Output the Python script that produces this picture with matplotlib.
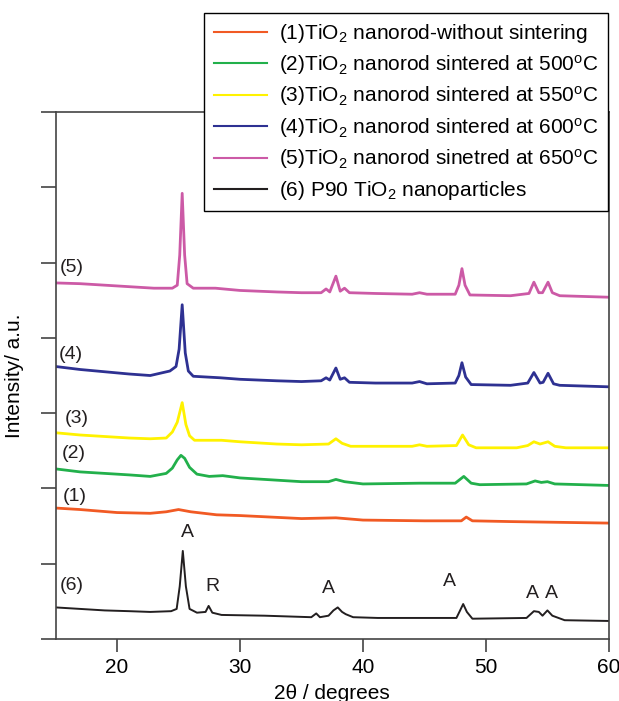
import matplotlib
matplotlib.use("Agg")
import matplotlib.pyplot as plt

plt.rcParams['font.family'] = ['Liberation Sans', 'DejaVu Sans']
plt.rcParams['mathtext.default'] = 'regular'

# (1) nanorod ohne Sintern
x1 = [15, 17, 20, 22.7, 24.0, 25.0, 26.0, 28.1, 30, 35, 37.8, 40, 45, 48.0, 48.4, 48.9, 52, 56, 60]
y1 = [1.74, 1.72, 1.68, 1.67, 1.69, 1.72, 1.69, 1.65, 1.64, 1.60, 1.61, 1.58, 1.57, 1.57, 1.62, 1.57, 1.56, 1.55, 1.54]

# (2) 500 C
x2 = [15, 17, 19, 21, 22.7, 24.0, 24.5, 24.9, 25.2, 25.5, 25.9, 26.5, 27.5, 28.6, 30, 33, 35, 37.2, 37.8,
      38.5, 40, 44.6, 47.5, 48.2, 48.8, 49.5, 53.3, 54.0, 54.5, 55.0, 55.6, 60]
y2 = [2.26, 2.22, 2.20, 2.18, 2.16, 2.20, 2.27, 2.38, 2.44, 2.40, 2.28, 2.19, 2.16, 2.17, 2.14, 2.11, 2.09, 2.09, 2.12,
      2.09, 2.06, 2.07, 2.07, 2.16, 2.07, 2.05, 2.06, 2.10, 2.08, 2.09, 2.06, 2.04]

# (3) 550 C
x3 = [15, 17, 19, 21, 22.7, 24.0, 24.5, 24.9, 25.3, 25.6, 25.9, 26.3, 28.5, 30, 33, 35, 37.2, 37.8, 38.3, 39,
      44.0, 44.6, 45.2, 47.6, 48.1, 48.6, 49.2, 52.5, 53.4, 53.9, 54.4, 55.05, 55.6, 56.5, 60]
y3 = [2.74, 2.71, 2.69, 2.67, 2.66, 2.67, 2.75, 2.88, 3.14, 2.85, 2.70, 2.64, 2.64, 2.62, 2.59, 2.58, 2.59, 2.66, 2.60, 2.56,
      2.56, 2.58, 2.56, 2.57, 2.71, 2.58, 2.54, 2.54, 2.57, 2.62, 2.59, 2.62, 2.56, 2.54, 2.54]

# (4) 600 C
x4 = [15, 17, 19, 21, 22.7, 24.3, 24.8, 25.05, 25.3, 25.55, 25.8, 26.2, 28.4, 30, 33, 35, 36.6, 37.0, 37.3, 37.8,
      38.15, 38.5, 38.9, 41, 44.0, 44.6, 45.2, 47.5, 47.8, 48.05, 48.35, 48.8, 52, 53.4, 53.9, 54.4, 54.65, 55.05,
      55.5, 56, 58, 60]
y4 = [3.62, 3.58, 3.55, 3.52, 3.50, 3.56, 3.62, 3.85, 4.44, 3.80, 3.56, 3.49, 3.47, 3.45, 3.43, 3.42, 3.43, 3.47, 3.44, 3.60,
      3.45, 3.47, 3.41, 3.40, 3.40, 3.42, 3.39, 3.40, 3.50, 3.67, 3.48, 3.38, 3.37, 3.40, 3.54, 3.40, 3.41, 3.53,
      3.39, 3.37, 3.36, 3.35]

# (5) 650 C
x5 = [15, 17, 19, 21, 23, 24.5, 24.9, 25.1, 25.3, 25.5, 25.7, 26.2, 28, 30, 33, 35, 36.6, 37.0, 37.3, 37.8,
      38.15, 38.5, 38.9, 41, 44.0, 44.6, 45.2, 47.5, 47.8, 48.05, 48.3, 48.7, 52, 53.5, 53.9, 54.3, 54.6, 55.05,
      55.4, 56, 58, 60]
y5 = [4.73, 4.72, 4.70, 4.68, 4.66, 4.66, 4.70, 5.10, 5.92, 5.10, 4.72, 4.66, 4.66, 4.63, 4.61, 4.60, 4.60, 4.65, 4.61, 4.82,
      4.62, 4.66, 4.60, 4.59, 4.58, 4.60, 4.58, 4.58, 4.70, 4.92, 4.70, 4.57, 4.56, 4.59, 4.74, 4.60, 4.60, 4.74,
      4.60, 4.56, 4.55, 4.54]

# (6) P90
x6 = [15, 17, 19, 21, 22.7, 24.4, 24.85, 25.1, 25.35, 25.6, 25.9, 26.5, 27.2, 27.45, 27.75, 28.5, 32, 35.8, 36.2,
      36.5, 37.2, 37.6, 37.95, 38.3, 38.6, 39.2, 41.2, 44, 47.6, 47.9, 48.15, 48.45, 48.9, 53.3, 53.9, 54.3, 54.6,
      55.0, 55.4, 56.4, 60]
y6 = [0.42, 0.40, 0.38, 0.37, 0.36, 0.37, 0.40, 0.70, 1.17, 0.70, 0.40, 0.35, 0.36, 0.44, 0.35, 0.32, 0.31, 0.29, 0.34,
      0.29, 0.31, 0.38, 0.42, 0.36, 0.33, 0.29, 0.28, 0.28, 0.28, 0.38, 0.465, 0.36, 0.27, 0.28, 0.37, 0.36, 0.31,
      0.38, 0.31, 0.25, 0.24]

labels = [r"(1)TiO$_2$ nanorod-without sintering",
          r"(2)TiO$_2$ nanorod sintered at 500$^o$C",
          r"(3)TiO$_2$ nanorod sintered at 550$^o$C",
          r"(4)TiO$_2$ nanorod sintered at 600$^o$C",
          r"(5)TiO$_2$ nanorod sinetred at 650$^o$C",
          r"(6) P90 TiO$_2$ nanoparticles"]
farben = ['#f15a24', '#22b04b', '#fff200', '#2e3192', '#cc5aa6', '#231f20']

# Kurvennummern links
num_text = ["(5)", "(4)", "(3)", "(2)", "(1)", "(6)"]
num_x = [16.3, 16.26, 16.7, 16.5, 16.6, 16.3]
num_y = [4.94, 3.78, 2.93, 2.46, 1.89, 0.71]

# Phasen (A = Anatas, R = Rutil)
phase_text = ["A", "R", "A", "A", "A", "A"]
phase_x = [25.7, 27.8, 37.2, 47.07, 53.8, 55.35]
phase_y = [1.41, 0.70, 0.67, 0.77, 0.61, 0.61]

fig = plt.figure(figsize=(6.19, 7.01), dpi=100)
ax = fig.add_axes([0.0897, 0.0884, 0.894, 0.7518])

kurven = [(x1, y1), (x2, y2), (x3, y3), (x4, y4), (x5, y5), (x6, y6)]
for (xs, ys), lab, c in zip(kurven, labels, farben):
    lw = 1.4 if c == '#231f20' else 2.0
    ax.plot(xs, ys, color=c, lw=lw, label=lab, solid_joinstyle='round')

for t, xx, yy in zip(num_text, num_x, num_y):
    ax.text(xx, yy, t, fontsize=14, ha='center', va='center', color='#231f20')
for t, xx, yy in zip(phase_text, phase_x, phase_y):
    ax.text(xx, yy, t, fontsize=14, ha='center', va='center', color='#231f20')

ax.set_xlim(15, 60)
ax.set_ylim(0, 7)
ax.set_xticks([20, 30, 40, 50, 60])
ax.set_yticks(range(0, 8))
ax.set_yticklabels([])
ax.tick_params(axis='both', direction='out', color='#444444', width=1.2)
ax.tick_params(axis='y', length=11)
ax.tick_params(axis='x', length=9, labelsize=15, pad=5)
for s in ax.spines.values():
    s.set_color('#444444')
    s.set_linewidth(1.2)

ax.set_xlabel("2θ / degrees", fontsize=15, labelpad=5)
ax.set_ylabel("Intensity/ a.u.", fontsize=15, labelpad=8)

leg = ax.legend(loc='upper right', bbox_to_anchor=(608 / 619, 1 - 13 / 701),
                bbox_transform=fig.transFigure, borderaxespad=0, fancybox=False,
                edgecolor='black', fontsize=15, handlelength=2.55, handletextpad=0.6,
                labelspacing=0.36, borderpad=0.45, framealpha=1)
leg.get_frame().set_linewidth(1.0)
for line in leg.get_lines():
    line.set_linewidth(1.5)

fig.savefig("out.png", dpi=100)
